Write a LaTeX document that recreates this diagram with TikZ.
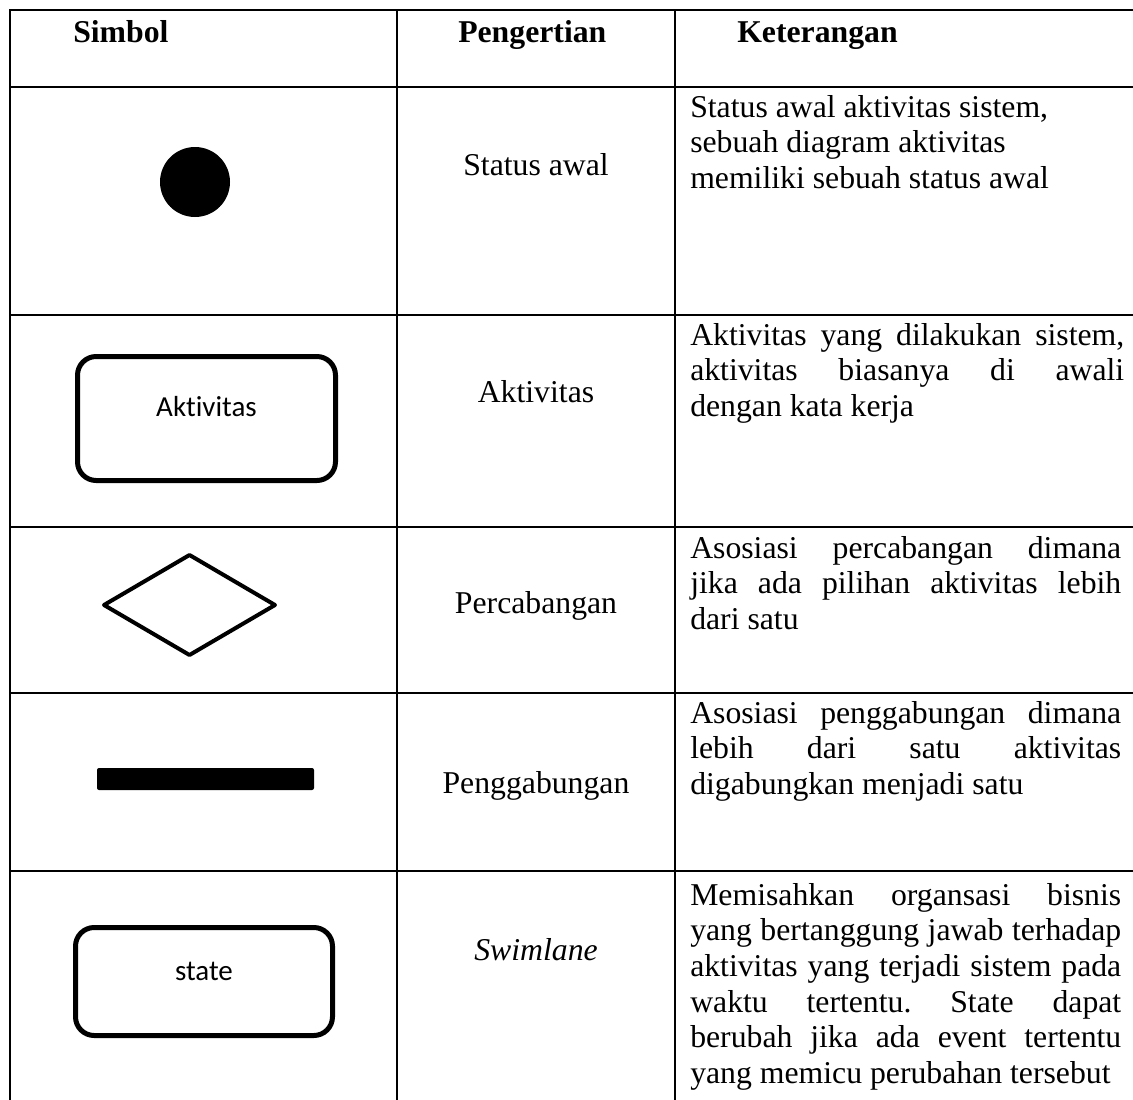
\documentclass[tikz,border=0pt]{standalone}
\usepackage{fontspec}
\setmainfont{Liberation Serif}
\newfontfamily\symfont[Ligatures=NoCommon]{Carlito}
% a line of a justified paragraph, spread to the full column width
\newcommand{\justline}[1]{\makebox[\linewidth][s]{#1}}
\frenchspacing
\begin{document}
\begin{tikzpicture}[x=0.75pt,y=-0.75pt,
  rule/.style={line width=2pt},
  hdr/.style={font=\fontsize{23.8}{26.8}\selectfont\bfseries, anchor=base west, inner sep=0},
  term/.style={font=\fontsize{23.8}{26.8}\selectfont, anchor=base, inner sep=0},
  desc/.style={font=\fontsize{23.8}{26.8}\selectfont, anchor=base west, inner sep=0},
  symlabel/.style={font=\symfont\fontsize{21.75}{26}\selectfont, anchor=base, inner sep=0},
  roundbox/.style={draw, line width=3.75pt, rounded corners=14pt, inner sep=0, rectangle},
]
\useasboundingbox (0,0) rectangle (1133,1100);

% table rules
\draw[rule] (10,10) -- (1133,10);
\foreach \yy in {87,315,527,693,871}
  \draw[rule] (10,\yy) -- (1133,\yy);
\foreach \xx in {10,397,675}
  \draw[rule] (\xx,9) -- (\xx,1100);

% header
\node[hdr] (hsym) at (73,42) {Simbol};
\node[hdr] (hdef) at (458,42) {Pengertian};
\node[hdr] (hdsc) at (737,42) {Keterangan};

% row 1: initial state
\fill (195,182) circle[radius=35];
\node[term] (t1) at (536,175) {Status awal};
\node[desc] (d1) at (690,117) {\parbox[t]{323.25pt}{%
  Status awal aktivitas sistem,\\
  sebuah diagram aktivitas\\
  memiliki sebuah status awal}};

% row 2: activity
\node[roundbox, minimum width=193.5pt, minimum height=93pt] (actbox) at (206.5,418.5) {};
\node[symlabel] (actlbl) at (206.5,416) {Aktivitas};
\node[term] (t2) at (536,402) {Aktivitas};
\node[desc] (d2) at (690,345) {\parbox[t]{325.5pt}{%
  \justline{Aktivitas yang dilakukan sistem,}\\
  \justline{aktivitas biasanya di awali}\\
  dengan kata kerja}};

% row 3: decision
\draw[line width=3pt, line join=round] (104,605) -- (189.5,555) -- (275,605) -- (189.5,655) -- cycle;
\node[term] (t3) at (536,613) {Percabangan};
\node[desc] (d3) at (690,558) {\parbox[t]{323.25pt}{%
  \justline{Asosiasi percabangan dimana}\\
  \justline{jika ada pilihan aktivitas lebih}\\
  dari satu}};

% row 4: join bar
\fill[rounded corners=1.5pt] (97,768) rectangle (314,790);
\node[term] (t4) at (536,793) {Penggabungan};
\node[desc] (d4) at (690,723) {\parbox[t]{323.25pt}{%
  \justline{Asosiasi penggabungan dimana}\\
  \justline{lebih dari satu aktivitas}\\
  digabungkan menjadi satu}};

% row 5: swimlane / state
\node[roundbox, minimum width=192.75pt, minimum height=81pt] (statebox) at (204,981.5) {};
\node[symlabel] (statelbl) at (204,980) {state};
\node[term] (t5) at (536,960) {\itshape Swimlane};
\node[desc] (d5) at (690,905) {\parbox[t]{323.25pt}{%
  \justline{Memisahkan organsasi bisnis}\\
  \justline{yang bertanggung jawab terhadap}\\
  \justline{aktivitas yang terjadi sistem pada}\\
  \justline{waktu tertentu. State dapat}\\
  \justline{berubah jika ada event tertentu}\\
  yang memicu perubahan tersebut}};
\end{tikzpicture}
\end{document}
